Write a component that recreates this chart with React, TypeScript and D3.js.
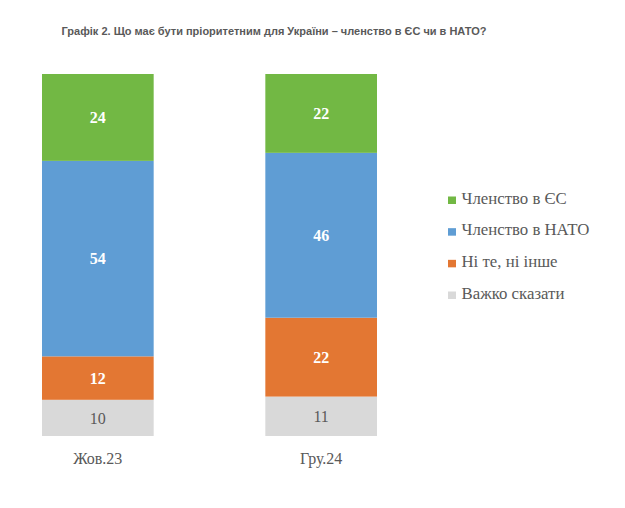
import React from 'react';
import * as d3 from 'd3';

const categories = ['Жов.23', 'Гру.24'];
const seriesNames = ['Важко сказати', 'Ні те, ні інше', 'Членство в НАТО', 'Членство в ЄС'];
const hardToSay = [10, 11];
const neither = [12, 22];
const nato = [54, 46];
const eu = [24, 22];
const colors = ['#D9D9D9', '#E37733', '#5F9DD4', '#72B844'];
const legendOrder = ['Членство в ЄС', 'Членство в НАТО', 'Ні те, ні інше', 'Важко сказати'];

const W = 625;
const H = 508;

const App = () => {
  const rows = categories.map((c, i) => ({
    cat: c,
    'Важко сказати': hardToSay[i],
    'Ні те, ні інше': neither[i],
    'Членство в НАТО': nato[i],
    'Членство в ЄС': eu[i],
  }));

  // 100% stacked, like the original spreadsheet chart
  const stacked = d3.stack<any>().keys(seriesNames).offset(d3.stackOffsetExpand)(rows);

  const x = d3.scaleBand().domain(categories).range([42, 377]).paddingInner(0.5).paddingOuter(0);
  const y = d3.scaleLinear().domain([0, 1]).range([436, 74]);
  const color = d3.scaleOrdinal<string, string>().domain(seriesNames).range(colors);
  const legendY = d3.scalePoint().domain(legendOrder).range([203.5, 298.5]);

  const serif = { fontFamily: "'Liberation Serif', 'Times New Roman', serif" };
  const textGrey = '#595959';

  return (
    <svg width={W} height={H} style={{ position: 'absolute', left: 0, top: 0, background: '#fff' }}>
      <text x={274} y={35} textAnchor="middle" style={{ fontFamily: "'Liberation Sans', Arial, sans-serif" }}
        fontWeight="bold" fontSize={11} fill={textGrey}>
        Графік 2. Що має бути пріоритетним для України – членство в ЄС чи в НАТО?
      </text>

      {stacked.map((s) => (
        <g key={s.key} fill={color(s.key)}>
          {s.map((d, i) => (
            <rect key={i} x={x(categories[i])} y={y(d[1])} width={x.bandwidth()} height={y(d[0]) - y(d[1])} />
          ))}
        </g>
      ))}

      {stacked.map((s) =>
        s.map((d, i) => {
          const v = (d.data as any)[s.key];
          const isGrey = s.key === 'Важко сказати';
          return (
            <text key={s.key + i} x={(x(categories[i]) as number) + x.bandwidth() / 2}
              y={(y(d[0]) + y(d[1])) / 2} dy="0.35em" textAnchor="middle"
              style={serif} fontSize={16} fontWeight={isGrey ? 'normal' : 'bold'}
              fill={isGrey ? textGrey : '#fff'}>
              {v}
            </text>
          );
        })
      )}

      {categories.map((c) => (
        <text key={c} x={(x(c) as number) + x.bandwidth() / 2} y={464} textAnchor="middle"
          style={serif} fontSize={16} fill={textGrey}>
          {c}
        </text>
      ))}

      {legendOrder.map((name) => (
        <g key={name} transform={`translate(448, ${legendY(name)})`}>
          <rect x={0} y={-7} width={8} height={7.5} fill={color(name)} />
          <text x={13.5} y={0} style={serif} fontSize={16.8} fill={textGrey}>
            {name}
          </text>
        </g>
      ))}
    </svg>
  );
};

export default App;
